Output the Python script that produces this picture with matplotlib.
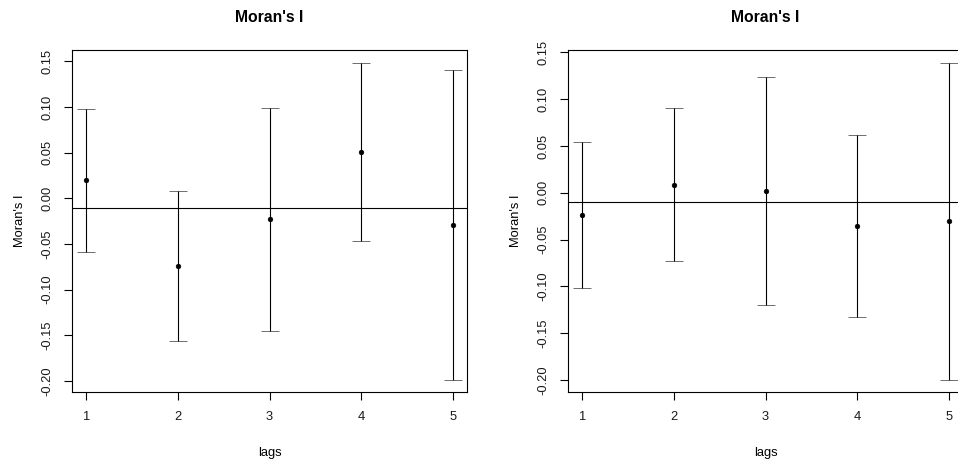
import matplotlib
matplotlib.use("Agg")
import matplotlib.pyplot as plt
import numpy as np

plt.rcParams['font.family'] = ['Liberation Sans', 'DejaVu Sans']
plt.rcParams['axes.unicode_minus'] = False

lags = [1, 2, 3, 4, 5]
# Left panel: estimate and half-width (2*sd) of Moran's I
left_est = [0.0197, -0.0741, -0.0228, 0.0508, -0.0295]
left_half = [0.0785, 0.0822, 0.1220, 0.0977, 0.1695]
# Right panel
right_est = [-0.0239, 0.0088, 0.0018, -0.0351, -0.0305]
right_half = [0.0782, 0.0819, 0.1216, 0.0972, 0.1695]
expected = -0.0101
yticks = [-0.20, -0.15, -0.10, -0.05, 0.00, 0.05, 0.10, 0.15]
ytick_labels = ["-0.20", "-0.15", "-0.10", "-0.05", "0.00", "0.05", "0.10", "0.15"]

W, H = 958, 466
fig = plt.figure(figsize=(W / 100, H / 100), dpi=100)

def px_axes(x0, x1, y0, y1):
    return fig.add_axes([x0 / W, 1 - y1 / H, (x1 - x0) / W, (y1 - y0) / H])

def panel(ax, est, half, ylim):
    est = np.array(est)
    half = np.array(half)
    ax.errorbar(lags, est, yerr=half, fmt='o', color='black', ecolor='black',
                markersize=3.4, markeredgewidth=0.4, elinewidth=0.8,
                capsize=6.5, capthick=0.8)
    ax.axhline(expected, color='black', lw=0.8)
    ax.set_xlim(0.84, 5.16)
    ax.set_ylim(*ylim)
    ax.set_xticks(lags)
    ax.set_xticklabels([str(l) for l in lags])
    ax.set_yticks(yticks)
    ax.set_yticklabels(ytick_labels, rotation=90, va='center')
    ax.tick_params(direction='out', length=5.5, width=0.8, labelsize=9.3,
                   colors='black', labelcolor='#1a1a1a')
    ax.tick_params(axis='x', pad=8.0)
    ax.tick_params(axis='y', pad=7.5)
    for s in ax.spines.values():
        s.set_linewidth(0.8)
    ax.set_title("Moran's I", fontsize=11.3, fontweight='bold', pad=20.5)
    ax.set_xlabel("lags", fontsize=9.3, labelpad=17)
    ax.set_ylabel("Moran's I", fontsize=9.3, labelpad=11.5)

ax1 = px_axes(71.7, 467.3, 50, 392.3)
panel(ax1, left_est, left_half, (-0.2124, 0.1624))

ax2 = px_axes(567.7, 963.3, 50, 392.3)
panel(ax2, right_est, right_half, (-0.2131, 0.1526))

fig.savefig("out.png", dpi=100)
